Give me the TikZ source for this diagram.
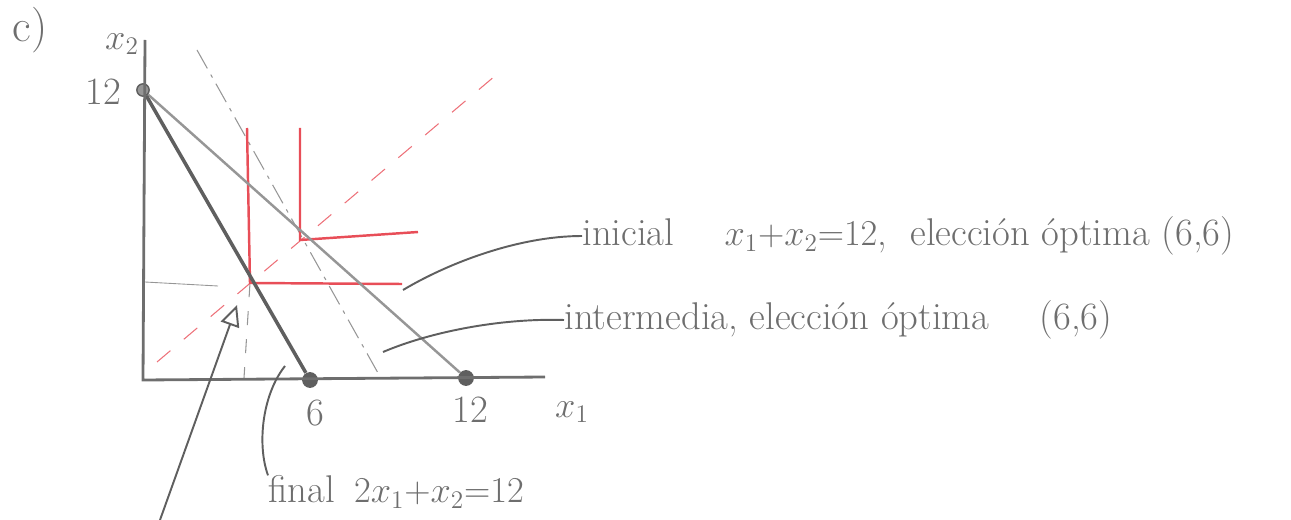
\documentclass[tikz,border=0pt]{standalone}
\usetikzlibrary{arrows.meta}
\definecolor{pencil}{RGB}{110,110,110}
\definecolor{pencildark}{RGB}{95,95,95}
\definecolor{pencillight}{RGB}{150,150,150}
\definecolor{redpen}{RGB}{232,78,88}
\begin{document}
\begin{tikzpicture}[x=0.02cm,y=-0.02cm,
  lbl/.style={text=pencil,font=\fontsize{22}{26}\selectfont,inner sep=0pt},
  axisline/.style={draw=pencil,line width=1.6pt},
  budgetfinal/.style={draw=pencildark,line width=2pt},
  budgetinit/.style={draw=pencillight,line width=1.4pt},
  budgetmid/.style={draw=pencillight,line width=0.6pt,dash pattern=on 12pt off 4pt on 2pt off 4pt},
  faint/.style={draw=pencillight,line width=0.5pt},
  faintdash/.style={draw=pencillight,line width=0.6pt,dash pattern=on 8pt off 8pt},
  indiff/.style={draw=redpen,line width=1.4pt},
  expansion/.style={draw=redpen!80,line width=0.6pt,dash pattern=on 10pt off 10pt},
  leader/.style={draw=pencildark,line width=1.1pt},
  dotmark/.style={circle,fill=pencildark,inner sep=0pt,minimum size=9pt},
  smallmark/.style={circle,draw=pencildark,fill=pencillight,line width=0.8pt,inner sep=0pt,minimum size=7pt}
]
\useasboundingbox (0,0) rectangle (1291,520);

% key points
\coordinate (O) at (143,380);
\coordinate (ytop) at (145,40);
\coordinate (xend) at (545,377);
\node[smallmark] (Y12) at (143,90) {};
\node[dotmark] (X6) at (310,380) {};
\node[dotmark] (X12) at (466,378) {};
\coordinate (A) at (300,240);
\coordinate (B) at (250,283);

% faint construction lines
\coordinate (midtop) at (197,50);
\coordinate (midbot) at (378,373);
\draw[budgetmid] (midtop) -- (midbot);
\coordinate (hl) at (145,282);
\coordinate (hr) at (218,286);
\draw[faint] (hl) -- (hr);
\coordinate (vb) at (244,378);
\draw[faintdash] (B) -- (vb);

% expansion path (red dashed)
\coordinate (e1) at (157,362);
\coordinate (e2) at (502,70);
\draw[expansion] (e1) -- (e2);

% indifference curves
\coordinate (Atop) at (300,128);
\coordinate (Aright) at (418,232);
\coordinate (Btop) at (247,128);
\coordinate (Bright) at (402,284);
\draw[indiff] (Atop) -- (A) -- (Aright);
\draw[indiff] (Btop) -- (B) -- (Bright);

% budget lines
\draw[budgetinit] (Y12) -- (X12);
\draw[budgetfinal] (Y12) -- (X6);

% axes
\draw[axisline] (ytop) -- (O) -- (xend);

% labels
\node[lbl,font=\fontsize{26}{30}\selectfont] (c) at (30,30) {c)};
\node[lbl] (x2) at (122,44) {$x_2$};
\node[lbl] (l12y) at (103,92) {12};
\node[lbl] (l6) at (315,413) {6};
\node[lbl] (l12x) at (470,410) {12};
\node[lbl] (x1) at (572,412) {$x_1$};

\node[lbl,anchor=west] (tinit) at (582,236) {inicial\quad\ $x_1{+}x_2{=}12$,\ \ elección óptima (6,6)};
\node[lbl,anchor=west] (tmid) at (564,320) {intermedia, elección óptima\quad\ (6,6)};
\node[lbl,anchor=west] (tfin) at (268,492) {final\enspace $2x_1{+}x_2{=}12$};

% leaders
\coordinate (pinit) at (403,290);
\coordinate (pmid) at (383,352);
\coordinate (pfin) at (285,366);
\draw[leader] (tinit.west) .. controls (520,236) and (450,262) .. (pinit);
\draw[leader] (tmid.west) .. controls (500,318) and (430,332) .. (pmid);
\draw[leader] (tfin.north west) .. controls (257,445) and (262,395) .. (pfin);

% arrow to the final choice
\coordinate (arrtail) at (160,520);
\coordinate (arrhead) at (237,305);
\draw[leader,-{Triangle[open,length=12pt,width=11pt]}] (arrtail) -- (arrhead);
\end{tikzpicture}
\end{document}
